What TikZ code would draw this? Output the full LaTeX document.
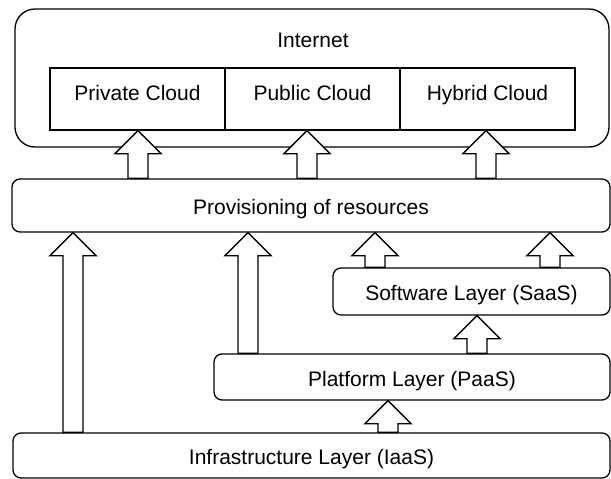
\documentclass[tikz,border=0pt]{standalone}
\usepackage{fontspec}
\setmainfont{Liberation Sans}
\usepackage{tikz}
\usetikzlibrary{calc, positioning}
\tikzset{
  layerbox/.style={draw, line width=1.3pt, rounded corners=8pt, inner sep=0pt,
    text height=18pt, text depth=0pt, font=\fontsize{21pt}{25pt}\selectfont},
  cloudbox/.style={draw, line width=1.3pt, inner sep=0pt, minimum width=175pt,
    minimum height=62pt, text height=15pt, text depth=12pt,
    font=\fontsize{21pt}{25pt}\selectfont},
  blockarrow/.style={draw, fill=white, line width=1.3pt, line join=miter},
}
% block arrow from a bottom point up to a tip point
\newcommand{\liftarrow}[2]{%
  \draw[blockarrow] let \p1=(#1), \p2=(#2) in
    (\x1-10pt,\y1) -- (\x1-10pt,\y2-23pt) -- (\x1-23pt,\y2-23pt) -- (\x1,\y2)
    -- (\x1+23pt,\y2-23pt) -- (\x1+10pt,\y2-23pt) -- (\x1+10pt,\y1) -- cycle;}

\begin{document}
\begin{tikzpicture}[x=1pt, y=-1pt]
  \useasboundingbox (0,0) rectangle (611,479);
  % internet frame with the three clouds
  \node[draw, line width=1.3pt, rounded corners=20pt, minimum width=594pt,
    minimum height=138pt] (internet) at (312,78) {};
  \node[font=\fontsize{21pt}{25pt}\selectfont] (inettitle) at (313,40) {Internet};
  \node[cloudbox] (priv) at (137.5,99) {Private Cloud};
  \node[cloudbox] (pub) at (312.5,99) {Public Cloud};
  \node[cloudbox] (hyb) at (487.5,99) {Hybrid Cloud};
  % layers
  \node[layerbox, minimum width=598pt, minimum height=53pt] (prov) at (311,205.5) {Provisioning of resources};
  \node[layerbox, minimum width=277pt, minimum height=47pt] (soft) at (471.5,291.5) {Software Layer (SaaS)};
  \node[layerbox, minimum width=396pt, minimum height=46pt] (plat) at (412,377) {Platform Layer (PaaS)};
  \node[layerbox, minimum width=597pt, minimum height=45pt] (infra) at (311.5,455.5) {Infrastructure Layer (IaaS)};
  % arrow columns
  \coordinate (c1) at (73,0);
  \coordinate (c2) at (248,0);
  \coordinate (c3) at (375,0);
  \coordinate (c4) at (550,0);
  \coordinate (c5) at (477,0);
  \coordinate (c6) at (388,0);
  \coordinate (t1) at (138,0);
  \coordinate (t2) at (307,0);
  \coordinate (t3) at (486,0);
  % arrows
  \liftarrow{c1 |- infra.north}{c1 |- prov.south}
  \liftarrow{c2 |- plat.north}{c2 |- prov.south}
  \liftarrow{c3 |- soft.north}{c3 |- prov.south}
  \liftarrow{c4 |- soft.north}{c4 |- prov.south}
  \liftarrow{c5 |- plat.north}{c5 |- soft.south}
  \liftarrow{c6 |- infra.north}{c6 |- plat.south}
  \liftarrow{t1 |- prov.north}{t1 |- priv.south}
  \liftarrow{t2 |- prov.north}{t2 |- pub.south}
  \liftarrow{t3 |- prov.north}{t3 |- hyb.south}
\end{tikzpicture}
\end{document}
